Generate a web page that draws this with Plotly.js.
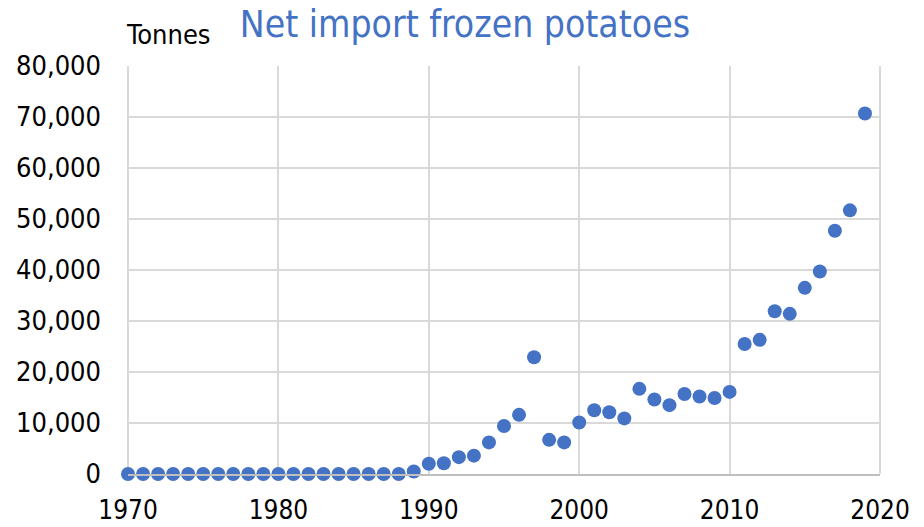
<!DOCTYPE html>
<html><head><meta charset="utf-8">
<script src="https://cdn.plot.ly/plotly-3.0.1.min.js"></script>
<style>html,body{margin:0;padding:0;background:#fff;}#chart{width:924px;height:527px;}</style>
</head><body><div id="chart"></div>
<script>
const years = [1970,1971,1972,1973,1974,1975,1976,1977,1978,1979,1980,1981,1982,1983,1984,1985,1986,1987,1988,1989,
  1990,1991,1992,1993,1994,1995,1996,1997,1998,1999,2000,2001,2002,2003,2004,2005,2006,2007,2008,2009,
  2010,2011,2012,2013,2014,2015,2016,2017,2018,2019];
const tonnes = [0,0,0,0,0,0,0,0,0,0,0,0,0,0,0,0,0,0,0,500,
  2000,2100,3300,3600,6200,9400,11600,22900,6700,6200,10100,12500,12100,10900,16700,14600,13500,15700,15200,14900,
  16100,25500,26300,31900,31400,36500,39700,47700,51700,70700];
const xTicks = [1970,1980,1990,2000,2010,2020];
const yTicks = [0,10000,20000,30000,40000,50000,60000,70000,80000];
const yTickText = ['0','10,000','20,000','30,000','40,000','50,000','60,000','70,000','80,000'];
const titleText = 'Net import frozen potatoes';
const unitText = 'Tonnes';

const FONT = '"Liberation Sans Narrow", "DejaVu Sans Condensed", sans-serif';
Plotly.newPlot('chart', [{
  x: years, y: tonnes, type: 'scatter', mode: 'markers',
  marker: {color: '#4472C4', size: 14},
  hoverinfo: 'skip', cliponaxis: false
}], {
  width: 924, height: 527,
  margin: {l: 128, r: 44, t: 66, b: 53},
  paper_bgcolor: '#fff', plot_bgcolor: '#fff',
  showlegend: false,
  title: {text: titleText, font: {family: FONT, size: 37, color: '#4472C4'},
    x: 0.448, xref: 'paper', xanchor: 'center', y: 0.954, yanchor: 'middle'},
  xaxis: {range: [1970, 2020], tickvals: xTicks, ticktext: xTicks.map(String),
    showgrid: true, gridcolor: '#d9d9d9', gridwidth: 2,
    showline: true, linecolor: '#bfbfbf', linewidth: 2, mirror: false,
    zeroline: false, ticks: '', ticklabelstandoff: 12,
    tickfont: {family: FONT, size: 26, color: '#000'}, fixedrange: true},
  yaxis: {range: [0, 80000], tickvals: yTicks, ticktext: yTickText,
    showgrid: true, gridcolor: '#d9d9d9', gridwidth: 2,
    showline: false, zeroline: false, ticks: '', ticklabelstandoff: 26,
    tickfont: {family: FONT, size: 27, color: '#000'}, fixedrange: true},
  shapes: [
    {type: 'line', xref: 'paper', yref: 'paper', x0: 0, x1: 0, y0: 0, y1: 1, line: {color: '#d9d9d9', width: 2}, layer: 'below'},
    {type: 'line', xref: 'paper', yref: 'paper', x0: 1, x1: 1, y0: 0, y1: 1, line: {color: '#d9d9d9', width: 2}, layer: 'below'}
  ],
  annotations: [{text: unitText, xref: 'paper', yref: 'paper', x: 0, y: 1, xanchor: 'left', yanchor: 'bottom',
    yshift: 14, xshift: -4, showarrow: false, font: {family: FONT, size: 27, color: '#000'}}]
}, {staticPlot: true});
</script></body></html>
